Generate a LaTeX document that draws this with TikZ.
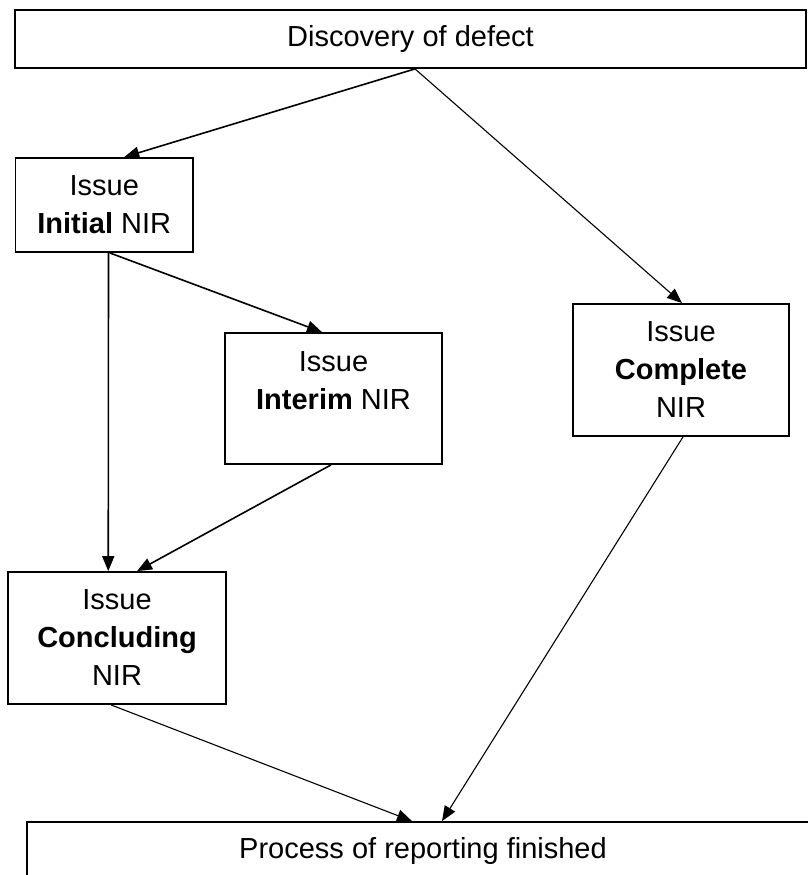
\documentclass[tikz,border=0pt]{standalone}
\usepackage{fontspec}
\setmainfont{Liberation Sans}
\usetikzlibrary{arrows.meta}
\begin{document}
\begin{tikzpicture}[x=1pt,y=-1pt,
  box/.style={draw, line width=1.8pt, rectangle, inner sep=0pt, align=center,
    font=\fontsize{29}{38}\selectfont},
  conn/.style={line width=1.6pt, -{Triangle[length=15pt,width=12pt]}},
  connthin/.style={line width=1.1pt, -{Triangle[length=15pt,width=12pt]}}]
\useasboundingbox (0,0) rectangle (808,875);
\clip (0,0) rectangle (808,875);
\node[box, minimum width=791pt, minimum height=58pt] (top) at (410.5,39) {Discovery of defect};
\node[box, minimum width=177.5pt, minimum height=94pt] (initial) at (104.25,205) {Issue\\\textbf{Initial} NIR};
\node[box, minimum width=217pt, minimum height=131pt] (interim) at (333.5,398.5) {Issue\\\textbf{Interim} NIR\\[-3pt]\mbox{}};
\node[box, minimum width=216pt, minimum height=132pt] (complete) at (681,370) {Issue\\\textbf{Complete}\\NIR};
\node[box, minimum width=218pt, minimum height=132pt] (concl) at (117,638) {Issue\\\textbf{Concluding}\\NIR};
\node[box, minimum width=792pt, minimum height=58pt] (finish) at (423,851) {Process of reporting finished};
\draw[conn] ([xshift=4.5pt]top.south) -- ([xshift=20pt]initial.north);
\draw[connthin] ([xshift=4.5pt]top.south) -- ([xshift=1pt]complete.north);
\draw[conn] ([xshift=4.25pt]initial.south) -- ([xshift=-8.75pt]concl.north);
\draw[conn] ([xshift=5.5pt]initial.south) -- ([xshift=-11.5pt]interim.north);
\draw[conn] ([xshift=-2.5pt]interim.south) -- ([xshift=20pt]concl.north);
\draw[connthin] ([xshift=2pt]complete.south) -- ([xshift=19pt]finish.north);
\draw[connthin] ([xshift=-6pt]concl.south) -- ([xshift=-11pt]finish.north);
\end{tikzpicture}
\end{document}
